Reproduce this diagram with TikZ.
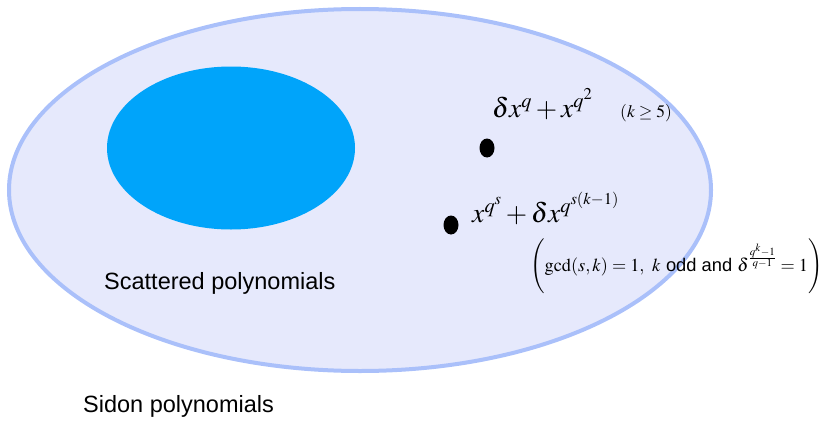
\documentclass[tikz,border=0pt]{standalone}
\usepackage{mathptmx}
\usepackage{fontspec}
\newfontfamily\labfont{Liberation Sans}
\usetikzlibrary{shapes.geometric}
\definecolor{outerfill}{RGB}{230,233,252}
\definecolor{outerline}{RGB}{170,192,250}
\definecolor{innerfill}{RGB}{0,164,250}
\tikzset{
  setshape/.style={ellipse, inner sep=0pt},
  dotmark/.style={ellipse, fill=black, minimum width=15pt, minimum height=19pt, inner sep=0pt},
  lab/.style={inner sep=0pt, anchor=base west, font=\labfont\fontsize{23.5}{27}\selectfont},
  formula/.style={inner sep=0pt, anchor=base west, font=\fontsize{27.5}{32}\selectfont}
}
\begin{document}
\begin{tikzpicture}[x=1pt,y=-1pt]
\useasboundingbox (0,0) rectangle (826,420);
\node[setshape, fill=outerfill, draw=outerline, line width=4pt, minimum width=702pt, minimum height=362pt] (sidon) at (360,190) {};
\node[setshape, fill=innerfill, minimum width=248pt, minimum height=163pt] (scat) at (231,148) {};
\node[dotmark] (d1) at (487,148) {};
\node[dotmark] (d2) at (451,225) {};
\node[formula] (f1) at (492,117) {$\delta x^{q}+x^{q^{2}}$};
\node[inner sep=0pt, anchor=base west, font=\fontsize{17.5}{20}\selectfont] (c1) at (620,117) {$(k\geq 5)$};
\node[formula] (f2) at (472,222) {$x^{q^{s}}+\delta x^{q^{s(k-1)}}$};
\node[inner sep=0pt, anchor=base west, font=\fontsize{18.3}{22}\selectfont] (c2) at (530,271) {$\Bigg(\mathrm{gcd}(s,k)=1,\ k\ \mbox{\labfont odd and } \delta^{\frac{q^{k}-1}{q-1}}=1\Bigg)$};
\node[lab] (lscat) at (104,289) {Scattered polynomials};
\node[lab] (lsidon) at (83,412) {Sidon polynomials};
\end{tikzpicture}
\end{document}
